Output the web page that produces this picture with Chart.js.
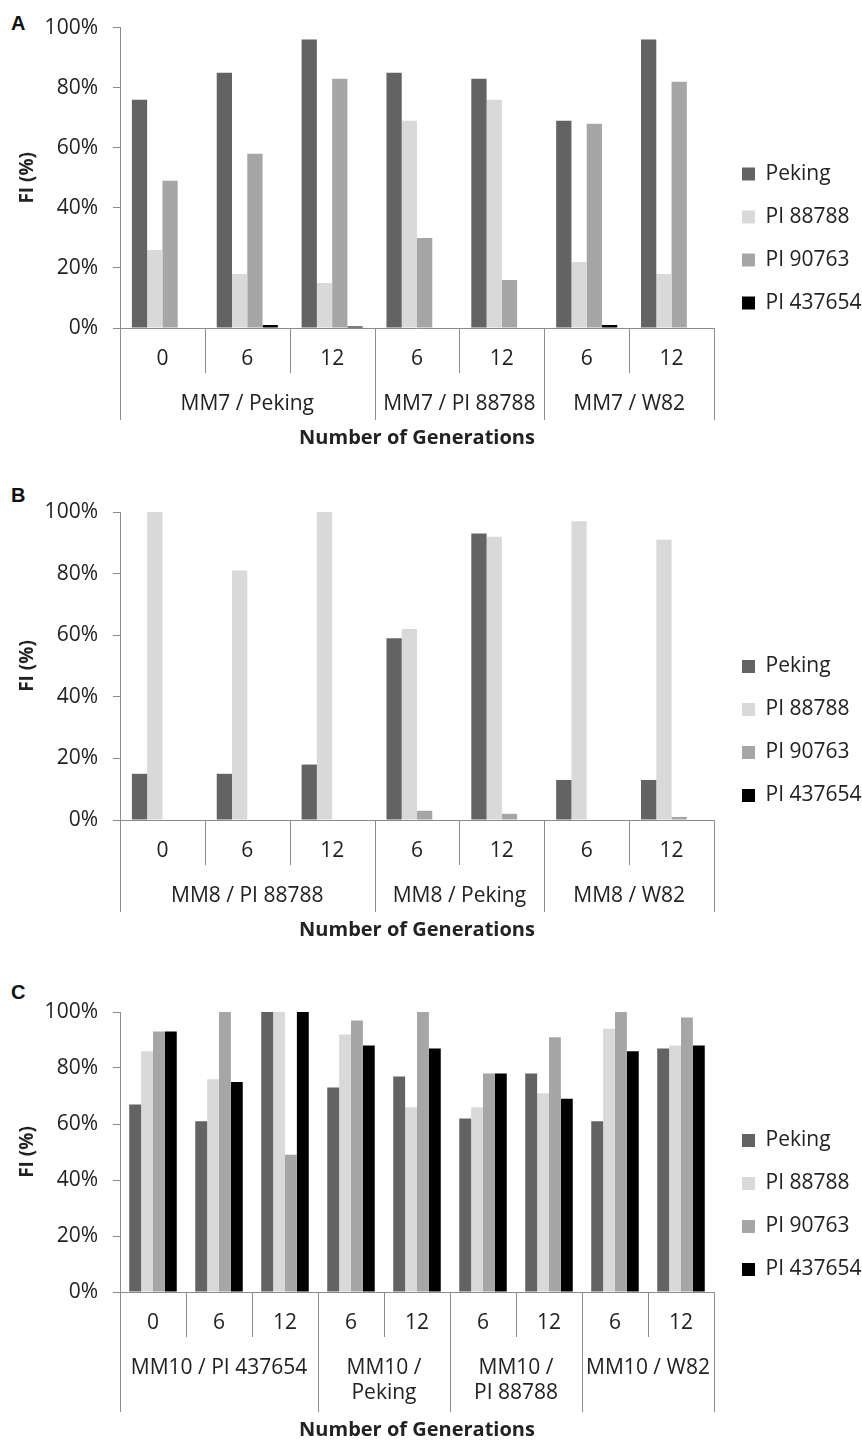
<!DOCTYPE html>
<html>
<head>
<meta charset="utf-8">
<title>FI by generation</title>
<script src="https://cdn.jsdelivr.net/npm/chart.js@4.4.1/dist/chart.umd.min.js"></script>
<style>
    body { margin: 0; background: #fff; width: 862px; height: 1442px; position: relative; overflow: hidden; }
    .panel { position: absolute; left: 0; width: 862px; }
    .letter { position: absolute; left: 11px; font: bold 20px Arial, "Liberation Sans", sans-serif; line-height: 20px; color: #111; }
</style>
</head>
<body>
<div class="letter" style="top:13px">A</div>
<div class="letter" style="top:485px">B</div>
<div class="letter" style="top:982px">C</div>
<div class="panel" id="boxA" style="top:0px;height:450px"><canvas id="chartA"></canvas></div>
<div class="panel" id="boxB" style="top:470px;height:472px"><canvas id="chartB"></canvas></div>
<div class="panel" id="boxC" style="top:960px;height:482px"><canvas id="chartC"></canvas></div>
<script>
// series names
const seriesNames = ['Peking', 'PI 88788', 'PI 90763', 'PI 437654'];
const seriesColors = ['#636363', '#d9d9d9', '#a6a6a6', '#000000'];

// Panel A
const gensA = ['0', '6', '12', '6', '12', '6', '12'];
const groupsA = ['MM7 / Peking', 'MM7 / PI 88788', 'MM7 / W82'];
const spansA = [3, 2, 2];
const pekingA = [76, 85, 96, 85, 83, 69, 96];
const pi88788A = [26, 18, 15, 69, 76, 22, 18];
const pi90763A = [49, 58, 83, 30, 16, 68, 82];
const pi437654A = [0, 1, 0.5, 0, 0, 1, 0];

// Panel B
const gensB = ['0', '6', '12', '6', '12', '6', '12'];
const groupsB = ['MM8 / PI 88788', 'MM8 / Peking', 'MM8 / W82'];
const spansB = [3, 2, 2];
const pekingB = [15, 15, 18, 59, 93, 13, 13];
const pi88788B = [100, 81, 100, 62, 92, 97, 91];
const pi90763B = [0, 0, 0, 3, 2, 0, 1];
const pi437654B = [0, 0, 0, 0, 0, 0, 0];

// Panel C
const gensC = ['0', '6', '12', '6', '12', '6', '12', '6', '12'];
const groupsC = ['MM10 / PI 437654', 'MM10 /\nPeking', 'MM10 /\nPI 88788', 'MM10 / W82'];
const spansC = [3, 2, 2, 2];
const pekingC = [67, 61, 100, 73, 77, 62, 78, 61, 87];
const pi88788C = [86, 76, 100, 92, 66, 66, 71, 94, 88];
const pi90763C = [93, 100, 49, 97, 100, 78, 91, 100, 98];
const pi437654C = [93, 75, 100, 88, 87, 78, 69, 86, 88];

const textColor = '#222';
const axisColor = '#8c8c8c';
Chart.defaults.font.family = '"Open Sans", sans-serif';
Chart.defaults.color = textColor;

// draws the two-level category axis (generations + crosses) under the plot
const hierAxis = {
    id: 'hierAxis',
    afterDraw(chart, args, opts) {
        const xs = chart.scales.x;
        const ctx = chart.ctx;
        const y0 = chart.chartArea.bottom;
        const n = chart.data.labels.length;
        const w = (xs.right - xs.left) / n;

        // which boundaries are group edges
        const edges = [0];
        let acc = 0;
        opts.spans.forEach(s => { acc += s; edges.push(acc); });

        ctx.save();
        ctx.strokeStyle = axisColor;
        ctx.lineWidth = 1;
        for (let i = 0; i <= n; i++) {
            const px = Math.round(xs.left + i * w) + 0.5;
            const len = edges.includes(i) ? opts.outerLen : opts.innerLen;
            ctx.beginPath();
            ctx.moveTo(px, y0);
            ctx.lineTo(px, y0 + len);
            ctx.stroke();
        }

        ctx.fillStyle = textColor;
        ctx.font = '21px "Open Sans", sans-serif';
        ctx.textAlign = 'center';
        ctx.textBaseline = 'middle';
        chart.data.labels.forEach((lab, i) => {
            ctx.fillText(lab, xs.getPixelForValue(i), y0 + opts.genOffset);
        });

        let start = 0;
        opts.groups.forEach((g, k) => {
            const cx = xs.left + (start + opts.spans[k] / 2) * w;
            g.split('\n').forEach((line, j) => {
                ctx.fillText(line, cx, y0 + opts.groupOffset + j * opts.lineGap);
            });
            start += opts.spans[k];
        });
        ctx.restore();
    }
};

// moves the legend block to where it sits in the figure
const legendShift = {
    id: 'legendShift',
    afterLayout(chart, args, opts) {
        const l = chart.legend;
        if (!l) return;
        l.left += opts.dx; l.right += opts.dx;
        l.top += opts.dy; l.bottom += opts.dy;
    }
};

function makeChart(id, gens, groups, spans, values, layout) {
    const ctx = document.getElementById(id).getContext('2d');
    return new Chart(ctx, {
        type: 'bar',
        data: {
            labels: gens,
            datasets: values.map((v, i) => ({
                label: seriesNames[i],
                data: v,
                backgroundColor: seriesColors[i],
                borderWidth: 0,
                categoryPercentage: 0.72,
                barPercentage: 1.0,
            })),
        },
        options: {
            responsive: true,
            maintainAspectRatio: false,
            animation: false,
            layout: { padding: { top: layout.top, left: 16, right: 0, bottom: 0 } },
            scales: {
                x: {
                    ticks: { display: false },
                    grid: { display: false },
                    border: { display: true, color: axisColor, width: 1 },
                    title: {
                        display: true,
                        text: 'Number of Generations',
                        font: { size: 20, weight: 'bold' },
                        color: textColor,
                        padding: { top: 0, bottom: 0 },
                    },
                    afterFit(scale) { scale.height = layout.xHeight; },
                },
                y: {
                    min: 0,
                    max: 100,
                    ticks: {
                        stepSize: 20,
                        padding: 15,
                        font: { size: 21 },
                        color: textColor,
                        callback: v => v + '%',
                    },
                    grid: { drawOnChartArea: false, drawTicks: true, tickLength: 7, color: axisColor },
                    border: { display: true, color: axisColor, width: 1 },
                    title: {
                        display: true,
                        text: 'FI (%)',
                        font: { size: 19, weight: 'bold' },
                        color: textColor,
                        padding: 0,
                    },
                    afterFit(scale) { scale.width = 104; },
                },
            },
            plugins: {
                legend: {
                    position: 'right',
                    maxWidth: 148,
                    labels: {
                        boxWidth: 13,
                        boxHeight: 13,
                        padding: 22,
                        font: { size: 21 },
                        color: textColor,
                    },
                },
                tooltip: { enabled: false },
                hierAxis: {
                    groups: groups,
                    spans: spans,
                    innerLen: 45,
                    outerLen: layout.outerLen,
                    genOffset: 31,
                    groupOffset: 76,
                    lineGap: 25,
                },
                legendShift: { dx: 6, dy: layout.legendDy },
            },
        },
        plugins: [hierAxis, legendShift],
    });
}

document.addEventListener("DOMContentLoaded", function () {
    makeChart('chartA', gensA, groupsA, spansA, [pekingA, pi88788A, pi90763A, pi437654A],
        { top: 19, xHeight: 122, outerLen: 92, legendDy: 4 });
    makeChart('chartB', gensB, groupsB, spansB, [pekingB, pi88788B, pi90763B, pi437654B],
        { top: 42, xHeight: 122, outerLen: 92, legendDy: 4 });
    makeChart('chartC', gensC, groupsC, spansC, [pekingC, pi88788C, pi90763C, pi437654C],
        { top: 52, xHeight: 150, outerLen: 120, legendDy: -22 });
});
</script>
</body>
</html>
